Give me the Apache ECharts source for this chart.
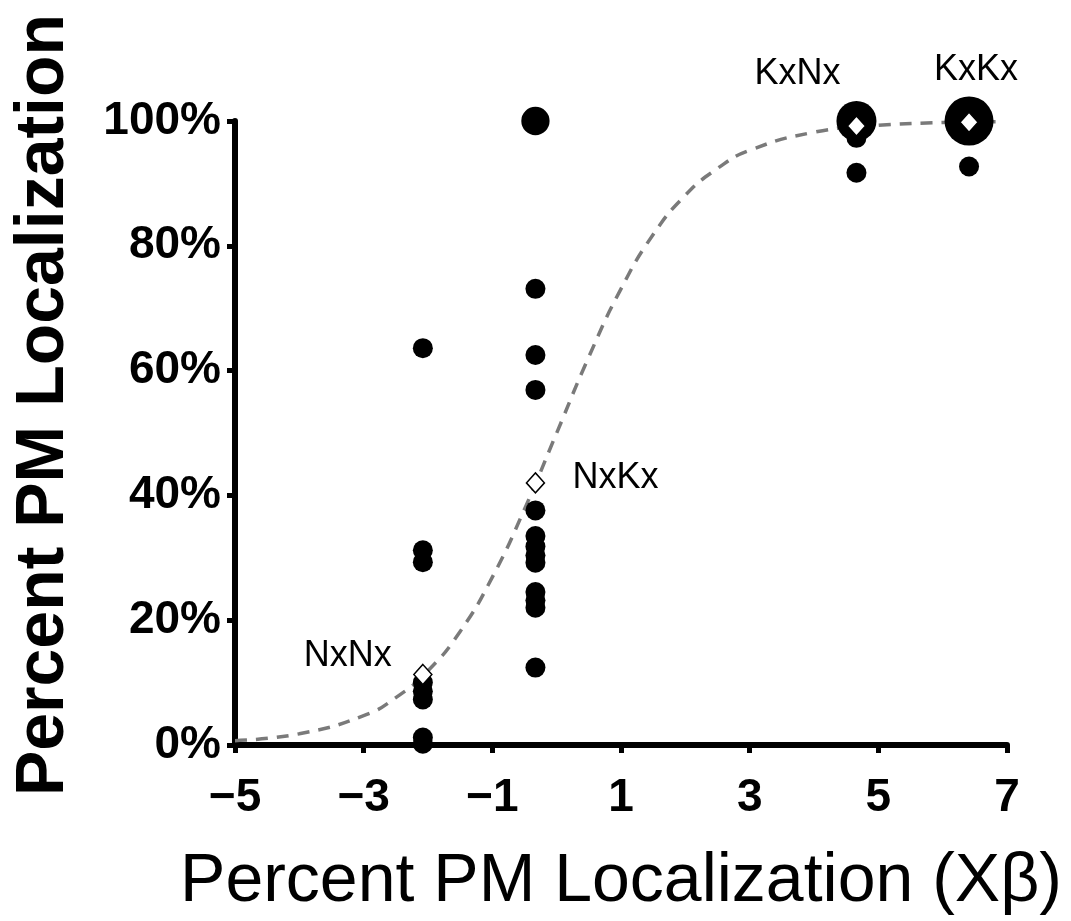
<!DOCTYPE html>
<html><head><meta charset="utf-8">
<script src="https://cdn.jsdelivr.net/npm/echarts@6/dist/echarts.min.js"></script>
<style>html,body{margin:0;padding:0;background:#fff}#chart{width:1071px;height:921px}</style>
</head><body><div id="chart"></div>
<script>
// ---- data ----
// individual observations (Xβ, % PM localization)
const obsX = [-2.08, -2.08, -2.08, -2.08, -2.08, -2.08, -2.08, -2.08,
              -0.33, -0.33, -0.33, -0.33, -0.33, -0.33, -0.33, -0.33, -0.33, -0.33, -0.33, -0.33, -0.33,
              4.66, 4.66, 4.66,
              6.41, 6.41];
const obsY = [63.6, 31.2, 29.3, 10.0, 8.6, 7.3, 1.2, 0.2,
              100, 73.1, 62.5, 56.9, 37.6, 33.5, 31.8, 30.4, 29.2, 24.5, 23.2, 22.0, 12.4,
              100, 97.3, 91.7,
              100, 92.7];
// number of coinciding observations drawn as one marker
const obsCount = [1, 1, 1, 1, 1, 1, 1, 1,
                  2, 1, 1, 1, 1, 1, 1, 1, 1, 1, 1, 1, 1,
                  4, 1, 1,
                  6, 1];
// genotype means
const genotypes = ['NxNx', 'NxKx', 'KxNx', 'KxKx'];
const genoX = [-2.08, -0.33, 4.66, 6.41];
const genoY = [11.3, 42.0, 99.2, 99.8];
// fitted curve (dashed)
const curveX = [-5, -4, -3, -2.5, -2, -1.5, -1, -0.5, 0, 0.5, 1, 1.5, 2, 2.5, 3, 4, 5, 6, 6.9];
const curveY = [0.7, 1.8, 4.7, 7.6, 11.9, 18.2, 26.9, 37.8, 50, 62.2, 73.1, 81.8, 88.1, 92.4, 95.3, 98.2, 99.3, 99.75, 99.9];
// axes
const xMin = -5, xMax = 7, xStep = 2;
const yMin = 0, yMax = 100, yStep = 20;
const xTitle = 'Percent PM Localization (Xβ)';
const yTitle = 'Percent PM Localization';

// ---- chart ----
const FONT = '"Liberation Sans", Arial, sans-serif';
const labelOffsets = [[-75, -18], [80, -5], [-59, -52], [7, -52]];
const chart = echarts.init(document.getElementById('chart'), null, {renderer: 'canvas'});
const axisCommon = {
  axisLine: {show: true, onZero: false, lineStyle: {color: '#000', width: 6}},
  axisTick: {show: true, inside: false, length: 8, lineStyle: {color: '#000', width: 5}},
  splitLine: {show: false},
};
const labelStyle = {fontFamily: FONT, fontSize: 36, color: '#000', textBorderWidth: 0, opacity: 1};
chart.setOption({
  backgroundColor: '#fff',
  animation: false,
  grid: {left: 235, right: 64, top: 121, bottom: 172, containLabel: false},
  xAxis: Object.assign({
    type: 'value', min: xMin, max: xMax, interval: xStep,
    name: xTitle, nameLocation: 'middle', nameGap: 103,
    nameTextStyle: {fontFamily: FONT, fontSize: 68, color: '#000'},
    axisLabel: {margin: 30, fontFamily: FONT, fontWeight: 'bold', fontSize: 46, color: '#000',
      formatter: v => String(v).replace('-', '\u2212')}
  }, axisCommon),
  yAxis: Object.assign({
    type: 'value', min: yMin, max: yMax, interval: yStep,
    name: yTitle, nameLocation: 'middle', nameGap: 157, nameRotate: 90,
    nameTextStyle: {fontFamily: FONT, fontSize: 68, fontWeight: 'bold', color: '#000', padding: [0, 0, 0, 56]},
    axisLabel: {margin: 14, fontFamily: FONT, fontWeight: 'bold', fontSize: 46, color: '#000',
      formatter: v => v + '%'}
  }, axisCommon),
  series: [
    {
      type: 'line', name: 'fit', smooth: true, symbol: 'none', z: 3,
      data: curveX.map((x, i) => [x, curveY[i]]),
      lineStyle: {color: '#7a7a7a', width: 3.5, type: [12, 9]}
    },
    {
      type: 'scatter', name: 'observations', z: 4, clip: false,
      data: obsX.map((x, i) => [x, obsY[i], obsCount[i]]),
      symbol: 'circle',
      symbolSize: d => 20 * Math.sqrt(d[2]),
      itemStyle: {color: '#000', opacity: 1}
    },
    {
      type: 'scatter', name: 'genotype', z: 5, clip: false,
      data: genoX.map((x, i) => ({
        value: [x, genoY[i]], name: genotypes[i],
        label: Object.assign({offset: labelOffsets[i]}, labelStyle)
      })),
      symbol: 'diamond', symbolSize: [18, 20],
      itemStyle: {color: '#fff', borderColor: '#000', borderWidth: 1.5, opacity: 1},
      label: Object.assign({show: true, position: 'inside', formatter: p => p.name}, labelStyle)
    }
  ]
});
</script>
</body></html>
